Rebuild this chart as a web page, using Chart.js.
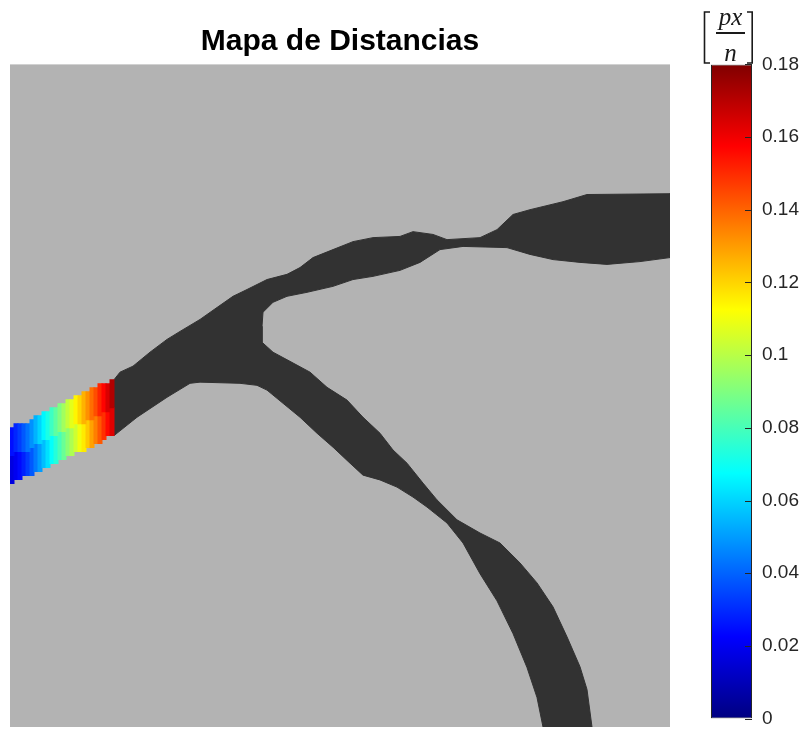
<!DOCTYPE html>
<html>
<head>
<meta charset="utf-8">
<script src="https://cdn.jsdelivr.net/npm/chart.js@4/dist/chart.umd.min.js"></script>
<style>
html,body{margin:0;padding:0;background:#ffffff;}
#wrap{position:relative;width:812px;height:740px;overflow:hidden;}
#main{position:absolute;left:0;top:0;}
#cbar{position:absolute;left:690px;top:0;}
</style>
</head>
<body>
<div id="wrap">
<canvas id="main" width="812" height="740"></canvas>
<canvas id="cbar" width="122" height="740"></canvas>
</div>
<script>
// ---------------- data (image pixel coordinates, 165 x 166 image) ----------------
// outline of the dark vessel region (x, y) in image pixels
const vesselOutline = [
  [26,79],[27.5,77.1],[30.75,75.6],[35,72.1],[39.25,68.9],[42.5,66.9],[47.5,63.9],[51.75,60.9],
  [55.75,58.1],[59.25,56.4],[64.25,53.9],[69.25,52.6],[72.5,50.9],[75.75,48.4],[80.75,46.4],
  [85.75,44.4],[90.75,43.4],[97.5,43.1],[100.75,41.9],[105.75,42.6],[109.25,43.9],[117.5,43.4],
  [121.75,41.4],[125.75,37.6],[130,36.4],[138.25,34.4],[144.25,32.6],[165,32.4],[165,48.4],
  [157.5,49.4],[149.25,50.1],[142.5,49.6],[135.75,48.9],[130,47.6],[124.25,45.9],[113.25,45.6],
  [107.5,46.4],[102.5,49.6],[97.5,51.6],[90.75,53.1],[85.75,53.9],[80.75,55.6],[74.25,57.1],
  [69.25,58.1],[65.75,59.6],[63.25,62.1],[63,65.6],[63,69.6],[65.75,72.1],[70,74.4],[75,77.1],
  [79.25,80.9],[84.25,84.1],[88.25,88.4],[92.5,92.4],[95.75,96.6],[99.25,99.9],[103.25,104.9],
  [106.75,109.1],[111.75,114.1],[117.5,117.4],[122.5,119.9],[127.5,124.9],[131.75,129.9],
  [135.75,135.9],[139.25,143.4],[142.5,150.9],[144.25,156.6],[145.5,166],[133.25,166],
  [131.75,158.6],[129.25,151.1],[125.75,142.6],[121.75,134.4],[117.5,127.6],[113.25,119.9],
  [109.25,114.9],[104.25,110.9],[100.75,108.4],[96.75,105.9],[92.5,104.1],[88.25,102.9],
  [85,99.9],[80.75,95.9],[76.75,92.4],[72.5,88.4],[68.25,84.9],[64.25,81.6],[61.75,80.4],
  [57.5,79.9],[47.5,79.6],[45,79.9],[39.25,83.4],[31.75,88.4],[26,93]
];

// colored (distance) columns of the vessel start
const colIndex  = [0,1,2,3,4,5,6,7,8,9,10,11,12,13,14,15,16,17,18,19,20,21,22,23,24,25];
const colTop    = [91,90,90,90,90,89,88,88,87,87,86,86,85,85,84,84,83,83,82,82,81,81,80,80,80,79];
const colMid    = [98,97,97,97,97,96,95,95,94,94,93,93,92,92,91,91,90,90,90,89,89,88,88,87,87,86];
const colBottom = [105,104,104,103,103,103,102,102,101,101,100,100,99,99,98,98,97,97,97,96,96,95,95,94,93,93];
const valUpper  = [0.025,0.029,0.033,0.038,0.043,0.048,0.054,0.060,0.066,0.072,0.078,0.084,0.090,
                   0.096,0.102,0.108,0.114,0.120,0.126,0.132,0.138,0.144,0.151,0.157,0.164,0.171];
const valLower  = [0.017,0.020,0.024,0.028,0.033,0.038,0.044,0.050,0.056,0.062,0.068,0.074,0.080,
                   0.086,0.092,0.098,0.104,0.110,0.116,0.122,0.129,0.135,0.142,0.149,0.156,0.163];

// colorbar
const cbRange = [0, 0.18];
const cbTicks = [0, 0.02, 0.04, 0.06, 0.08, 0.1, 0.12, 0.14, 0.16, 0.18];
const cbTickLabels = ['0','0.02','0.04','0.06','0.08','0.1','0.12','0.14','0.16','0.18'];

// ---------------- styling helpers ----------------
const VMAX = cbRange[1];
function jet(v) {
  const t = Math.max(0, Math.min(1, v / VMAX));
  const c = x => Math.round(255 * Math.max(0, Math.min(1, 1.5 - Math.abs(x))));
  return 'rgb(' + c(4*t - 3) + ',' + c(4*t - 2) + ',' + c(4*t - 1) + ')';
}
const SANS = '"Liberation Sans", Arial, Helvetica, sans-serif';
const SERIF = '"Liberation Serif", "DejaVu Serif", serif';

// ---------------- main image chart ----------------
const imageBg = {
  id: 'imageBg',
  beforeDatasetsDraw(chart) {
    const {ctx, chartArea: a} = chart;
    ctx.save();
    ctx.fillStyle = '#b3b3b3';
    ctx.fillRect(a.left, a.top, a.right - a.left, a.bottom - a.top);
    ctx.restore();
  }
};

new Chart(document.getElementById('main'), {
  type: 'scatter',
  data: {
    datasets: [
      {
        type: 'line',
        label: 'Vaso',
        data: vesselOutline.map(p => ({x: p[0], y: p[1]})),
        showLine: true,
        fill: 'shape',
        backgroundColor: '#323232',
        borderColor: '#323232',
        borderWidth: 1,
        pointRadius: 0,
        tension: 0,
        order: 2
      },
      {
        type: 'bar',
        label: 'Distancia (sup.)',
        data: colIndex.map((c, i) => ({x: c + 0.5, y: [colTop[i], colMid[i]]})),
        backgroundColor: valUpper.map(jet),
        grouped: false,
        barPercentage: 1,
        categoryPercentage: 1,
        borderWidth: 0,
        inflateAmount: 0.5,
        order: 1
      },
      {
        type: 'bar',
        label: 'Distancia (inf.)',
        data: colIndex.map((c, i) => ({x: c + 0.5, y: [colMid[i], colBottom[i]]})),
        backgroundColor: valLower.map(jet),
        grouped: false,
        barPercentage: 1,
        categoryPercentage: 1,
        borderWidth: 0,
        inflateAmount: 0.5,
        order: 1
      }
    ]
  },
  options: {
    responsive: false,
    animation: false,
    events: [],
    layout: {padding: {left: 10, right: 142, top: 0, bottom: 13}},
    plugins: {
      legend: {display: false},
      tooltip: {enabled: false},
      title: {
        display: true,
        text: 'Mapa de Distancias',
        color: '#000000',
        font: {family: SANS, size: 30, weight: 'bold', lineHeight: 1.2},
        padding: {top: 24, bottom: 4.4}
      }
    },
    scales: {
      x: {type: 'linear', min: 0, max: 165, display: false, offset: false, grid: {offset: false}},
      y: {type: 'linear', min: 0, max: 166, reverse: true, display: false, offset: false}
    }
  },
  plugins: [imageBg]
});

// ---------------- colorbar chart ----------------
const cbDecor = {
  id: 'cbDecor',
  afterDatasetsDraw(chart) {
    const {ctx, chartArea: a} = chart;
    const y = chart.scales.y;
    ctx.save();
    // inward tick marks
    ctx.strokeStyle = '#262626';
    ctx.lineWidth = 1;
    cbTicks.forEach(v => {
      const p = Math.round(y.getPixelForValue(v)) + 0.5;
      ctx.beginPath();
      ctx.moveTo(a.right - 7, p);
      ctx.lineTo(a.right, p);
      ctx.stroke();
    });
    // unit label  [ px / n ]
    const cx = 40.5;
    ctx.fillStyle = '#1a1a1a';
    ctx.strokeStyle = '#1a1a1a';
    ctx.textAlign = 'center';
    ctx.textBaseline = 'alphabetic';
    ctx.font = 'italic 25px ' + SERIF;
    ctx.fillText('px', cx, 25);
    ctx.fillText('n', cx, 61);
    ctx.lineWidth = 2;
    ctx.beginPath();
    ctx.moveTo(26, 33); ctx.lineTo(55, 33);
    ctx.stroke();
    ctx.lineWidth = 1.6;
    ctx.beginPath();
    ctx.moveTo(20, 12); ctx.lineTo(14.5, 12); ctx.lineTo(14.5, 63); ctx.lineTo(20, 63);
    ctx.moveTo(57, 12); ctx.lineTo(62.2, 12); ctx.lineTo(62.2, 63); ctx.lineTo(57, 63);
    ctx.stroke();
    ctx.restore();
  }
};

new Chart(document.getElementById('cbar'), {
  type: 'bar',
  data: {
    labels: ['colorbar'],
    datasets: [{
      label: 'colorbar',
      data: [cbRange],
      backgroundColor: (c) => {
        const ch = c.chart;
        const ys = ch.scales.y;
        if (!ys || !ch.chartArea) return '#808080';
        const g = ch.ctx.createLinearGradient(0, ys.getPixelForValue(cbRange[0]), 0, ys.getPixelForValue(cbRange[1]));
        [[0,'#000080'],[0.125,'#0000ff'],[0.375,'#00ffff'],[0.625,'#ffff00'],[0.875,'#ff0000'],[1,'#800000']]
          .forEach(s => g.addColorStop(s[0], s[1]));
        return g;
      },
      borderColor: '#262626',
      borderWidth: 1,
      borderSkipped: false,
      barPercentage: 1,
      categoryPercentage: 1,
      inflateAmount: 0
    }]
  },
  options: {
    responsive: false,
    animation: false,
    events: [],
    layout: {padding: {left: 21, right: 0, top: 64.4, bottom: 13}},
    plugins: {legend: {display: false}, tooltip: {enabled: false}},
    scales: {
      x: {display: false},
      y: {
        position: 'right',
        min: cbRange[0],
        max: cbRange[1],
        grid: {display: false, drawTicks: false},
        border: {display: false},
        afterBuildTicks: s => { s.ticks = cbTicks.map(v => ({value: v})); },
        afterFit: s => { s.width = 60; },
        ticks: {
          padding: 10,
          color: '#262626',
          autoSkip: false,
          font: {family: SANS, size: 19},
          callback: (v, i) => cbTickLabels[i]
        }
      }
    }
  },
  plugins: [cbDecor]
});
</script>
</body>
</html>
